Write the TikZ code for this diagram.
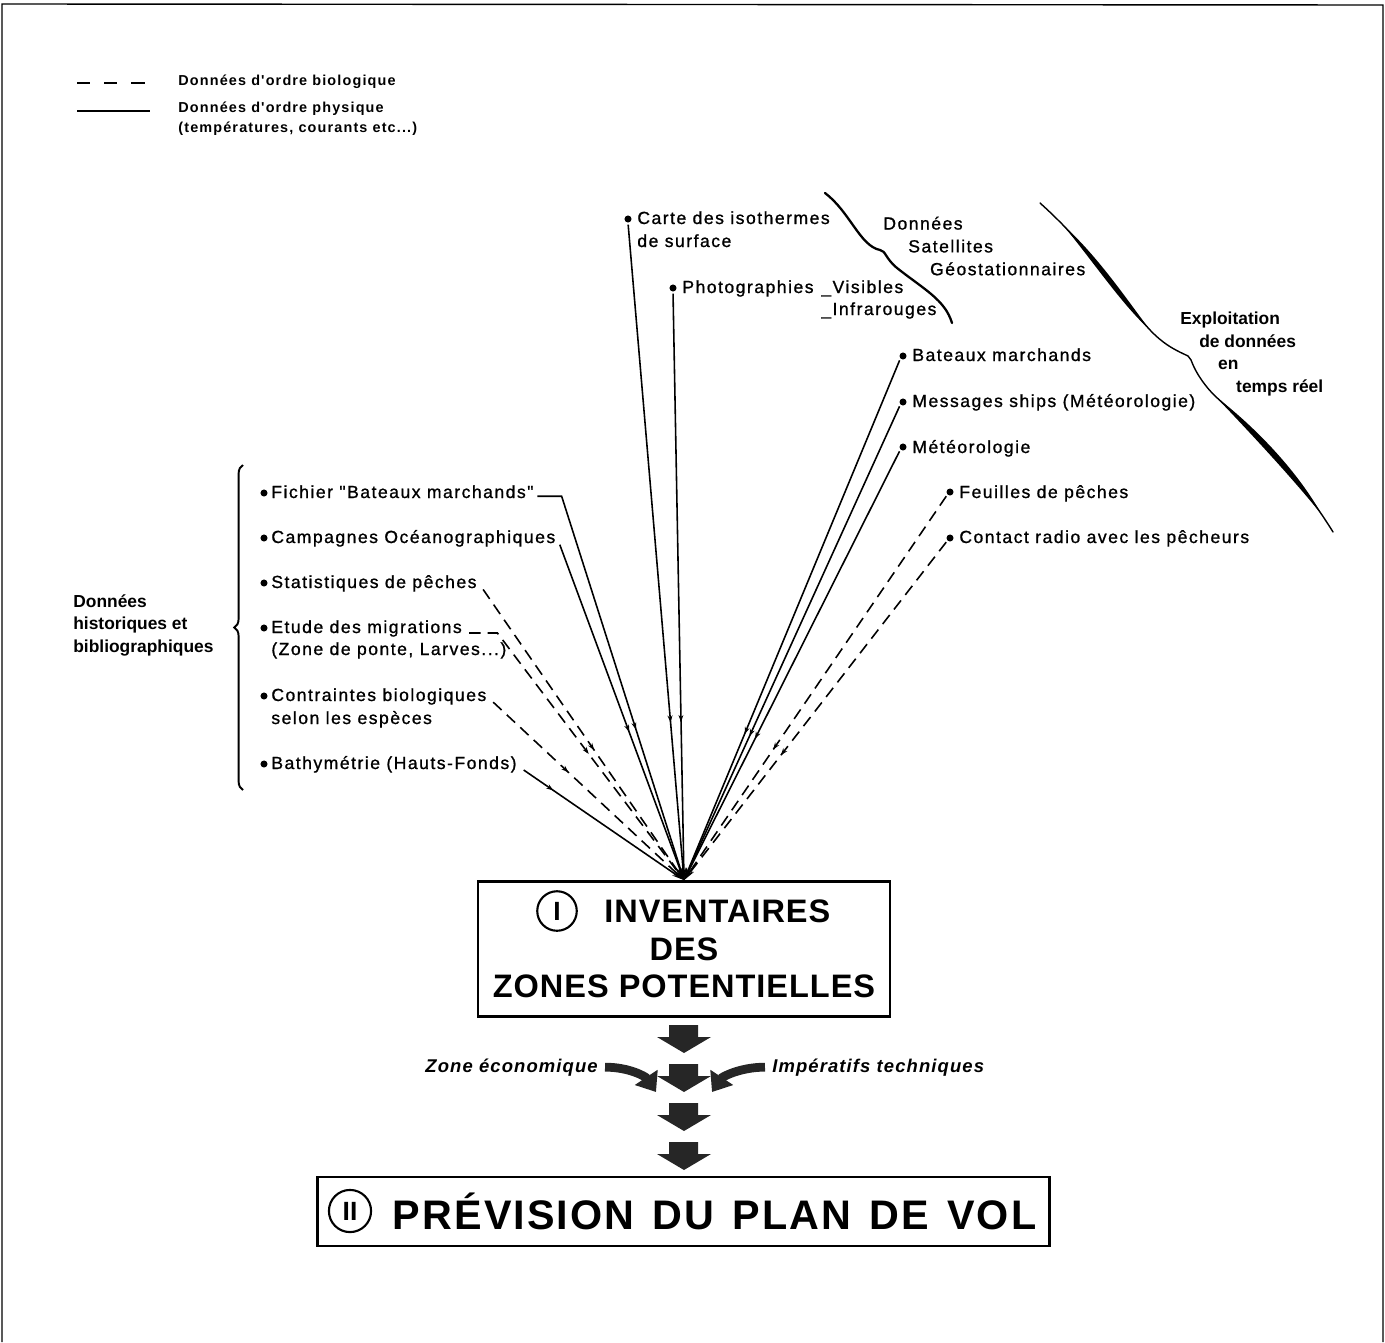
\documentclass[tikz,border=0pt]{standalone}
\usepackage{fontspec}
\setmainfont{Liberation Sans}
\newfontfamily\lblfont[LetterSpace=8.5,FakeBold=1]{Liberation Sans}
\newfontfamily\legfont[LetterSpace=8]{Liberation Sans}
\newfontfamily\cmtfont[LetterSpace=6]{Liberation Sans}
\newfontfamily\boxfont[LetterSpace=3]{Liberation Sans}
\newfontfamily\volfont[LetterSpace=5]{Liberation Sans}
\usetikzlibrary{arrows.meta,decorations.markings,decorations.pathreplacing}

\tikzset{
  dot/.style={circle,fill=black,inner sep=0pt,minimum size=4pt},
  lbl/.style={font=\lblfont\fontsize{10}{13}\selectfont,inner sep=0pt,anchor=base west},
  grp/.style={font=\bfseries\fontsize{9.9}{12.8}\selectfont,inner sep=0pt,align=left,anchor=west},
  leg/.style={font=\legfont\bfseries\fontsize{8.2}{10}\selectfont,inner sep=0pt,anchor=base west},
  cmt/.style={font=\cmtfont\bfseries\itshape\fontsize{10.5}{12}\selectfont,inner sep=0pt},
  phys/.style={line width=0.9pt,shorten <=1pt,-{Stealth[length=7pt,width=3.2pt]},
    postaction={decorate},
    decoration={markings,mark=at position -90pt with {\arrow{Stealth[length=4pt,width=2.8pt]}}}},
  bio/.style={phys,dash pattern=on 6.5pt off 4pt},
  rond/.style={circle,draw,line width=1.2pt,inner sep=0pt,font=\bfseries\fontsize{15}{15}\selectfont},
  bigbox/.style={draw,line width=1.4pt,inner sep=0pt},
  bloc/.style={fill=black!85},
  fatcurve/.style={black!85,line width=5pt,-{Triangle[length=10pt,width=15pt]}},
  swoosh/.style={line width=0.8pt,line cap=round},
}

\begin{document}
\begin{tikzpicture}[x=0.02cm,y=-0.02cm]
  \useasboundingbox (0,0) rectangle (1385,1342);
  % cadre
  \draw[line width=0.8pt] (2,1342) -- (2,4) -- (1383,5) -- (1383,1342);

  % legende
  \draw[line width=0.8pt,dash pattern=on 7.5pt off 8pt] (77,83) -- (150,83);
  \draw[line width=0.8pt] (77,111) -- (150,111);
  \node[leg] (lg1) at (178,85) {Données d'ordre biologique};
  \node[leg] (lg2) at (178,112) {Données d'ordre physique};
  \node[leg] (lg3) at (178,132) {(températures, courants etc...)};

  % boites
  \node[bigbox,minimum width=234.7pt,minimum height=77pt,align=center,
    font=\boxfont\bfseries\fontsize{18.5}{21.5}\selectfont] (inv) at (684,949)
    {\hspace*{38pt}INVENTAIRES\\DES\\ZONES POTENTIELLES};
  \node[rond,minimum size=22.5pt] (n1) at (557,911) {I};

  \node[bigbox,minimum width=416.7pt,minimum height=39pt,text width=416.7pt,align=left,
    font=\volfont\bfseries\fontsize{23.5}{26}\selectfont] (prev) at (683.5,1211.5)
    {\hspace*{43pt}PRÉVISION\hspace{2.6pt} DU\hspace{2.6pt} PLAN\hspace{2.6pt} DE\hspace{2.6pt} VOL};
  \node[rond,minimum size=24pt] (n2) at (350,1211) {II};

  % fleches pleines
  \foreach \y in {1025,1064,1103,1142}
    \fill[bloc] (669,\y) -- (698,\y) -- (698,\y+12) -- (711,\y+12) -- (684,\y+28)
      -- (657,\y+12) -- (669,\y+12) -- cycle;
  \node[cmt,anchor=base east] (zone) at (598,1072) {Zone économique};
  \node[cmt,anchor=base west] (imp) at (772,1072) {Impératifs techniques};
  \draw[fatcurve] ([xshift=4pt]zone.east) .. controls +(25,0) and +(-10,-15) .. (656,1092);
  \draw[fatcurve] ([xshift=-4pt]imp.west) .. controls +(-25,0) and +(10,-15) .. (712,1092);

  % donnees historiques
  \draw[line width=1.1pt,decorate,decoration={brace,amplitude=5pt}] (243,790) -- (243,465);
  \node[grp] (hist) at (73,625) {Données\\historiques et\\bibliographiques};

  \node[dot] (l1d) at (264,493) {};
  \node[lbl] (l1) at (271,498) {Fichier "Bateaux marchands"};
  \node[dot] (l2d) at (264,538) {};
  \node[lbl] (l2) at (271,543) {Campagnes Océanographiques};
  \node[dot] (l3d) at (264,583) {};
  \node[lbl] (l3) at (271,588) {Statistiques de pêches};
  \node[dot] (l4d) at (264,628) {};
  \node[lbl] (l4) at (271,633) {Etude des migrations};
  \node[lbl] (l4b) at (271,655) {(Zone de ponte, Larves...)};
  \node[dot] (l5d) at (264,696) {};
  \node[lbl] (l5) at (271,701) {Contraintes biologiques};
  \node[lbl] (l5b) at (271,724) {selon les espèces};
  \node[dot] (l6d) at (264,764) {};
  \node[lbl] (l6) at (271,769) {Bathymétrie (Hauts-Fonds)};

  \draw[phys] ([xshift=1pt,yshift=1pt]l1.base east) -- ++(26,0) -- (inv.north);
  \draw[phys] ([xshift=2pt]l2.base east) -- (inv.north);
  \draw[bio] ([xshift=3pt]l3.base east) -- (inv.north);
  \draw[bio] ([xshift=3pt]l4.base east) -- ++(30,0) -- (inv.north);
  \draw[bio] ([xshift=3pt]l5.base east) -- (inv.north);
  \draw[phys] ([xshift=3pt]l6.base east) -- (inv.north);

  % donnees satellites
  \node[dot] (c1d) at (628,219) {};
  \node[lbl] (c1) at (637,224) {Carte des isothermes};
  \node[lbl] (c1b) at (637,247) {de surface};
  \node[dot] (c2d) at (673,288) {};
  \node[lbl] (c2) at (682,293) {Photographies};
  \node[lbl] (c2v) at (821,293) {\_Visibles};
  \node[lbl] (c2i) at (821,315) {\_Infrarouges};
  \node[lbl,align=left,anchor=west] (sat) at (883,246)
    {Données\\\hspace*{14.2pt}Satellites\\\hspace*{26.6pt}Géostationnaires};
  \draw[line width=1.3pt,line cap=round] (825,193) .. controls (850,212) and (860,246) .. (880,250)
    .. controls (886,251) and (885,258) .. (897,268) .. controls (925,290) and (945,300) .. (952,323);

  \draw[phys] (c1d.south) -- (inv.north);
  \draw[phys] (c2d.south) -- (inv.north);

  % temps reel
  \node[grp] (expl) at (1180,354)
    {Exploitation\\\hspace*{10.8pt}de données\\\hspace*{21.5pt}en\\\hspace*{31.8pt}temps réel};
  \draw[swoosh] (1040,203) .. controls (1050,212) and (1056,218) .. (1062,224)
    .. controls (1095,258) and (1125,303) .. (1150,330)
    .. controls (1166,347) and (1180,352) .. (1188,356) -- (1191,360)
    .. controls (1197,376) and (1207,388) .. (1215,396)
    .. controls (1255,432) and (1295,475) .. (1322,515)
    .. controls (1326,521) and (1330,527) .. (1333,532);
  \fill (1062,224) .. controls (1097.7,255.8) and (1127.7,300.8) .. (1150,330)
    .. controls (1122.3,305.2) and (1092.3,260.2) .. (1062,224) -- cycle;
  \fill (1215,396) .. controls (1258,429.3) and (1298,472.3) .. (1322,515)
    .. controls (1292,477.7) and (1252,434.7) .. (1215,396) -- cycle;

  \node[dot] (r1d) at (903,356) {};
  \node[lbl] (r1) at (912,361) {Bateaux marchands};
  \node[dot] (r2d) at (903,402) {};
  \node[lbl] (r2) at (912,407) {Messages ships (Météorologie)};
  \node[dot] (r3d) at (903,447) {};
  \node[lbl] (r3) at (912,453) {Météorologie};
  \node[dot] (r4d) at (950,492) {};
  \node[lbl] (r4) at (959,498) {Feuilles de pêches};
  \node[dot] (r5d) at (950,538) {};
  \node[lbl] (r5) at (959,543) {Contact radio avec les pêcheurs};

  \draw[phys] (r1d.south west) -- (inv.north);
  \draw[phys] (r2d.south west) -- (inv.north);
  \draw[phys] (r3d.south west) -- (inv.north);
  \draw[bio] (r4d.south west) -- (inv.north);
  \draw[bio] (r5d.south west) -- (inv.north);
\end{tikzpicture}
\end{document}
